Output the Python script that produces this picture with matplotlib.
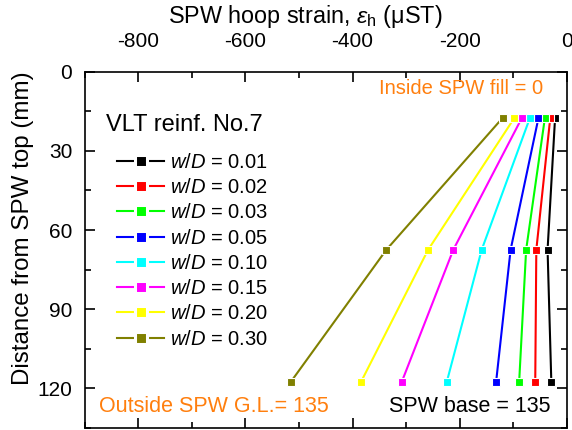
import matplotlib
matplotlib.use("Agg")
from matplotlib import pyplot as plt
from matplotlib.ticker import MultipleLocator

plt.rcParams['font.family'] = ['Liberation Sans', 'DejaVu Sans']
plt.rcParams['mathtext.fontset'] = 'custom'
plt.rcParams['mathtext.rm'] = 'Liberation Sans'
plt.rcParams['mathtext.it'] = 'Liberation Sans:italic'
plt.rcParams['axes.unicode_minus'] = False

# gauge depths below the SPW top (mm)
depth = [17.5, 67.5, 117.5]

ratios = ['0.01', '0.02', '0.03', '0.05', '0.10', '0.15', '0.20', '0.30']
colors = ['black', '#ff0000', '#00ff00', '#0000ff', '#00ffff', '#ff00ff', '#ffff00', '#808000']

# hoop strain at each depth, one list per w/D
strain_001 = [-22, -36, -29]
strain_002 = [-31, -57, -59]
strain_003 = [-41, -76, -89]
strain_005 = [-53, -105, -132]
strain_010 = [-69, -159, -224]
strain_015 = [-84, -212, -308]
strain_020 = [-98, -259, -384]
strain_030 = [-120, -337, -515]

series = [strain_001, strain_002, strain_003, strain_005,
          strain_010, strain_015, strain_020, strain_030]

fig = plt.figure(figsize=(5.72, 4.30), dpi=100)
ax = fig.add_axes([0.148, 0.005, 0.843, 0.828])

for r, c, s in zip(ratios, colors, series):
    ax.plot(s, depth, color=c, lw=1.5, marker='s', markersize=6.3,
            markeredgewidth=0.8, markeredgecolor='white',
            label=r'$w/D$ = ' + r)

ax.set_xlim(-900, 0)
ax.set_ylim(135, 0)
ax.xaxis.set_major_locator(MultipleLocator(200))
ax.xaxis.set_minor_locator(MultipleLocator(100))
ax.yaxis.set_major_locator(MultipleLocator(30))
ax.yaxis.set_minor_locator(MultipleLocator(15))
ax.xaxis.tick_top()
ax.xaxis.set_label_position('top')
ax.tick_params(which='both', direction='in', top=True, bottom=True,
               left=True, right=True, labelsize=15, width=1.2)
ax.tick_params(which='major', length=7)
ax.tick_params(which='minor', length=4)
ax.tick_params(axis='x', which='major', pad=15)
ax.tick_params(axis='y', which='major', pad=9)
for sp in ax.spines.values():
    sp.set_linewidth(1.2)

ax.set_xlabel(r'SPW hoop strain, $\varepsilon_\mathrm{h}$ ($\mathrm{\mu}$ST)',
              fontsize=16.8)
ax.set_ylabel('Distance from SPW top (mm)', fontsize=17.4)
ax.xaxis.set_label_coords(0.457, 1.136)
ax.yaxis.set_label_coords(-0.105, 0.561)

orange = '#ff7f0e'
ax.text(-44, 6.2, 'Inside SPW fill = 0', color=orange, fontsize=14.5,
        ha='right', va='center')
ax.text(-874, 127, 'Outside SPW G.L.= 135', color=orange, fontsize=15.5,
        ha='left', va='center')
ax.text(-31, 127, 'SPW base = 135', color='black', fontsize=15.5,
        ha='right', va='center')
ax.text(-860, 20.2, 'VLT reinf. No.7', fontsize=17, ha='left', va='center')

leg = ax.legend(loc='upper left', bbox_to_anchor=(0.067, 0.772), frameon=False,
                fontsize=14.5, handlelength=2.35, handletextpad=0.3,
                labelspacing=0.31, borderaxespad=0, borderpad=0)
# white rim round the legend squares leaves a gap to the line
for h in leg.get_lines():
    h.set_markersize(8.4)
    h.set_markeredgewidth(2.2)

fig.savefig('out.png', dpi=100)
